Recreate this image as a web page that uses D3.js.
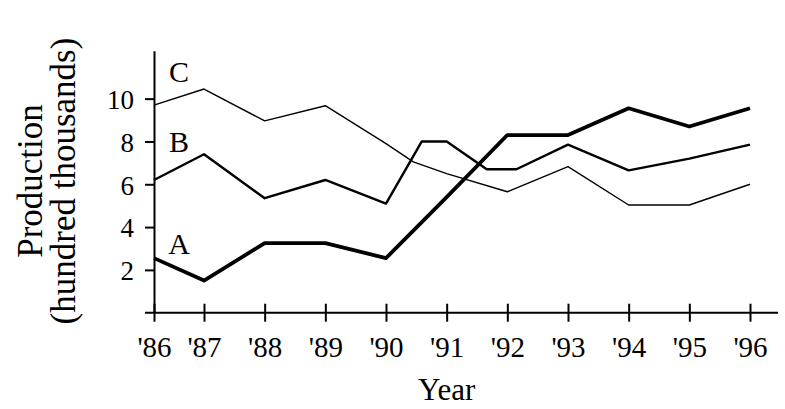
<!DOCTYPE html>
<html>
<head>
<meta charset="utf-8">
<title>Production</title>
<script src="https://cdn.jsdelivr.net/npm/d3@7"></script>
<style>
	body { margin: 0; background: #fff; }
	text { font-family: "Liberation Serif", serif; fill: #000; }
</style>
</head>
<body>
<div id="chart"></div>
<script>

	// x axis years and their labels
	var years = [1986, 1987, 1988, 1989, 1990, 1991, 1992, 1993, 1994, 1995, 1996];
	var yearLabels = ["'86", "'87", "'88", "'89", "'90", "'91", "'92", "'93", "'94", "'95", "'96"];
	var yTicks = [2, 4, 6, 8, 10];
	var seriesNames = ["A", "B", "C"];

	// A: one value per year
	var aYears = [1986, 1987, 1988, 1989, 1990, 1991, 1992, 1993, 1994, 1995, 1996];
	var aValues = [2.55, 1.5, 3.25, 3.25, 2.55, 5.4, 8.3, 8.3, 9.55, 8.7, 9.55];

	// B and C bend between some of the years
	var bYears = [1986, 1987, 1988, 1989, 1990, 1990.59, 1991, 1991.66, 1992.15, 1993, 1994, 1995, 1996];
	var bValues = [6.2, 7.4, 5.35, 6.2, 5.1, 8.0, 8.0, 6.7, 6.7, 7.85, 6.65, 7.2, 7.85];

	var cYears = [1986, 1987, 1988, 1989, 1990, 1990.45, 1991, 1992, 1993, 1994, 1995, 1996];
	var cValues = [9.7, 10.45, 8.96, 9.67, 7.9, 7.05, 6.5, 5.65, 6.82, 5.03, 5.03, 6.0];

	var widths = { A: 3.8, B: 2.4, C: 1.4 };

	var series = [
		{ name: "A", years: aYears, values: aValues },
		{ name: "B", years: bYears, values: bValues },
		{ name: "C", years: cYears, values: cValues }
	];

	var svg = d3.select("#chart").append("svg")
		.attr("width", 785)
		.attr("height", 409);

	// first year step is drawn narrower than the others
	var x = d3.scaleLinear().domain([1986, 1987, 1996]).range([154, 204, 750]);
	var y = d3.scaleLinear().domain([0, 12.24]).range([312.7, 50.7]);

	// y axis
	var yAxis = svg.append("g")
		.attr("transform", "translate(" + x(1986) + ",0)")
		.call(d3.axisLeft(y).tickValues(yTicks).tickSize(9).tickSizeOuter(0).tickPadding(11));
	yAxis.select(".domain").attr("stroke-width", 2);
	yAxis.selectAll(".tick line").attr("stroke-width", 2);
	yAxis.selectAll(".tick text")
		.attr("font-family", "Liberation Serif")
		.attr("font-size", 27)
		.attr("dy", "0.36em");

	// x axis, ticks cross the line
	var xAxis = svg.append("g")
		.attr("transform", "translate(0," + y(0) + ")")
		.call(d3.axisBottom(x).tickValues(years).tickFormat(function(d, i) { return yearLabels[i]; }));
	xAxis.select(".domain").remove();
	xAxis.append("line")
		.attr("x1", x(1986) - 9)
		.attr("x2", x(1996) + 28)
		.attr("stroke", "#000")
		.attr("stroke-width", 2);
	xAxis.selectAll(".tick line")
		.attr("y1", -9)
		.attr("y2", 9)
		.attr("stroke-width", 2);
	xAxis.selectAll(".tick text")
		.attr("font-family", "Liberation Serif")
		.attr("font-size", 29)
		.attr("y", 44)
		.attr("dy", null);

	// lines
	var line = d3.line()
		.x(function(d) { return x(d[0]); })
		.y(function(d) { return y(d[1]); });

	series.forEach(function(s) {
		var pts = s.years.map(function(yr, i) { return [yr, s.values[i]]; });
		svg.append("path")
			.datum(pts)
			.attr("d", line)
			.attr("fill", "none")
			.attr("stroke", "#000")
			.attr("stroke-width", widths[s.name])
			.attr("stroke-linejoin", "round");

		// letter sits above the middle of the first segment
		var mx = (s.years[0] + s.years[1]) / 2;
		var mv = (s.values[0] + s.values[1]) / 2;
		svg.append("text")
			.attr("x", x(mx))
			.attr("y", y(mv) - 15)
			.attr("text-anchor", "middle")
			.attr("font-size", 30)
			.text(s.name);
	});

	// axis titles
	svg.append("text")
		.attr("x", x(1991))
		.attr("y", 400)
		.attr("text-anchor", "middle")
		.attr("font-size", 31)
		.text("Year");

	var yl = svg.append("text")
		.attr("transform", "translate(0,181) rotate(-90)")
		.attr("text-anchor", "middle")
		.attr("font-size", 35);
	yl.append("tspan").attr("x", 0).attr("y", 41.5).text("Production");
	yl.append("tspan").attr("x", 0).attr("y", 75).text("(hundred thousands)");

</script>
</body>
</html>
